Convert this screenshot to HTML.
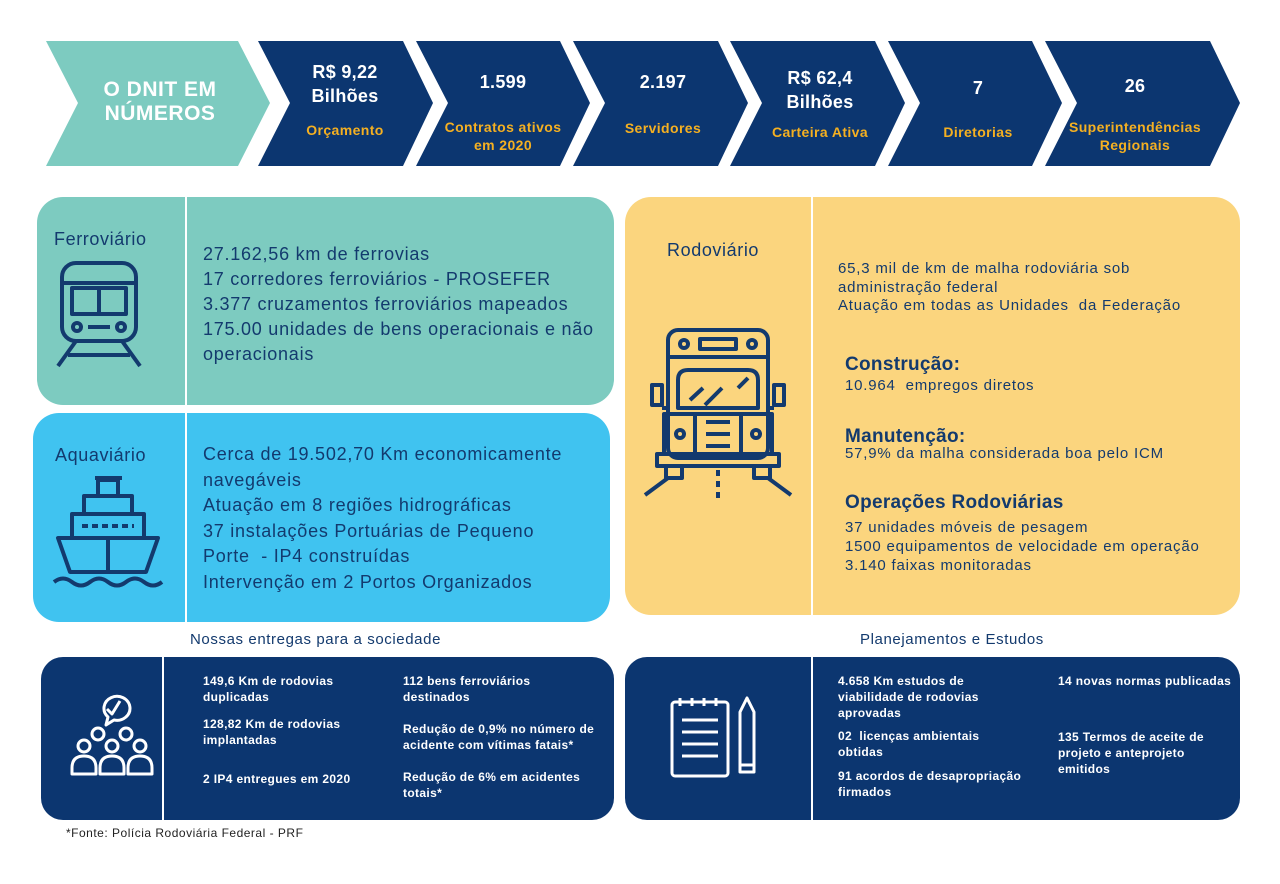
<!DOCTYPE html>
<html><head><meta charset="utf-8"><style>
*{margin:0;padding:0;box-sizing:border-box}
body{width:1280px;height:884px;background:#fff;position:relative;overflow:hidden;font-family:"Liberation Sans",sans-serif;color:#133a6e}
.a{position:absolute;white-space:nowrap}
.hv{color:#fff;font-weight:bold;font-size:18px;text-align:center;width:170px;line-height:24px;letter-spacing:0.3px}
.hl{color:#f5b021;font-size:14px;font-weight:bold;letter-spacing:0.4px;text-align:center;width:170px;line-height:18px}
.box{position:absolute;border-radius:26px}
.t17{font-size:18px;line-height:25px;letter-spacing:0.75px}
.t14{font-size:15px;line-height:18.5px;letter-spacing:0.8px}
.h{font-size:19px;font-weight:bold;letter-spacing:0.3px}
.ti{font-size:18px;letter-spacing:0.6px}
.s{font-size:12px;line-height:16px;color:#fff;font-weight:bold;letter-spacing:0.35px}
</style></head><body>
<svg class="a" style="left:0;top:0" width="1280" height="884">
<polygon points="46,41 238,41 270,103 238,166 46,166 78,103" fill="#7dcbc0"/>
<g fill="#0c3670">
<polygon points="258,41 403,41 433,103 403,166 258,166 290,103"/>
<polygon points="416,41 560,41 590,103 560,166 416,166 448,103"/>
<polygon points="573,41 718,41 748,103 718,166 573,166 605,103"/>
<polygon points="730,41 875,41 905,103 875,166 730,166 762,103"/>
<polygon points="888,41 1032,41 1062,103 1032,166 888,166 920,103"/>
<polygon points="1045,41 1210,41 1240,103 1210,166 1045,166 1077,103"/>
</g>
</svg>
<div class="a" style="left:80px;top:78px;width:160px;text-align:center;color:#fff;font-weight:bold;font-size:21px;letter-spacing:0.5px;line-height:24px">O DNIT EM<br>NÚMEROS</div>
<div class="a hv" style="left:260px;top:60px">R$ 9,22<br>Bilhões</div>
<div class="a hl" style="left:260px;top:121px">Orçamento</div>
<div class="a hv" style="left:418px;top:70px">1.599</div>
<div class="a hl" style="left:418px;top:118px">Contratos ativos<br>em 2020</div>
<div class="a hv" style="left:578px;top:70px">2.197</div>
<div class="a hl" style="left:578px;top:119px">Servidores</div>
<div class="a hv" style="left:735px;top:66px">R$ 62,4<br>Bilhões</div>
<div class="a hl" style="left:735px;top:123px">Carteira Ativa</div>
<div class="a hv" style="left:893px;top:76px">7</div>
<div class="a hl" style="left:893px;top:123px">Diretorias</div>
<div class="a hv" style="left:1050px;top:74px">26</div>
<div class="a hl" style="left:1050px;top:118px">Superintendências<br>Regionais</div>

<div class="box" style="left:37px;top:197px;width:577px;height:208px;background:#7dcbc0"></div>
<div class="box" style="left:33px;top:413px;width:577px;height:209px;background:#40c3f0"></div>
<div class="box" style="left:625px;top:197px;width:615px;height:418px;background:#fbd57e"></div>
<div class="box" style="left:41px;top:657px;width:573px;height:163px;background:#0c3670;border-radius:22px"></div>
<div class="box" style="left:625px;top:657px;width:615px;height:163px;background:#0c3670;border-radius:22px"></div>
<div class="a" style="left:185px;top:197px;width:2px;height:425px;background:#fff"></div>
<div class="a" style="left:811px;top:197px;width:2px;height:418px;background:#fff"></div>
<div class="a" style="left:162px;top:657px;width:2px;height:163px;background:#fff"></div>
<div class="a" style="left:811px;top:657px;width:2px;height:163px;background:#fff"></div>

<div class="a ti" style="left:54px;top:229px">Ferroviário</div>
<div class="a t17" style="left:203px;top:242px">27.162,56 km de ferrovias<br>17 corredores ferroviários - PROSEFER<br>3.377 cruzamentos ferroviários mapeados<br>175.00 unidades de bens operacionais e não<br>operacionais</div>
<div class="a ti" style="left:55px;top:445px">Aquaviário</div>
<div class="a t17" style="left:203px;top:442px;line-height:25.5px">Cerca de 19.502,70 Km economicamente<br>navegáveis<br>Atuação em 8 regiões hidrográficas<br>37 instalações Portuárias de Pequeno<br>Porte &nbsp;- IP4 construídas<br>Intervenção em 2 Portos Organizados</div>
<div class="a ti" style="left:667px;top:240px">Rodoviário</div>
<div class="a t14" style="left:838px;top:260px">65,3 mil de km de malha rodoviária sob<br>administração federal<br>Atuação em todas as Unidades &nbsp;da Federação</div>
<div class="a h" style="left:845px;top:354px">Construção:</div>
<div class="a t14" style="left:845px;top:377px">10.964 &nbsp;empregos diretos</div>
<div class="a h" style="left:845px;top:426px">Manutenção:</div>
<div class="a t14" style="left:845px;top:445px">57,9% da malha considerada boa pelo ICM</div>
<div class="a h" style="left:845px;top:492px">Operações Rodoviárias</div>
<div class="a t14" style="left:845px;top:518px;line-height:19px">37 unidades móveis de pesagem<br>1500 equipamentos de velocidade em operação<br>3.140 faixas monitoradas</div>

<div class="a" style="left:190px;top:631px;font-size:15px;letter-spacing:0.6px">Nossas entregas para a sociedade</div>
<div class="a" style="left:860px;top:631px;font-size:15px;letter-spacing:0.6px">Planejamentos e Estudos</div>
<div class="a s" style="left:203px;top:673px">149,6 Km de rodovias<br>duplicadas</div>
<div class="a s" style="left:203px;top:716px">128,82 Km de rodovias<br>implantadas</div>
<div class="a s" style="left:203px;top:771px">2 IP4 entregues em 2020</div>
<div class="a s" style="left:403px;top:673px">112 bens ferroviários<br>destinados</div>
<div class="a s" style="left:403px;top:721px">Redução de 0,9% no número de<br>acidente com vítimas fatais*</div>
<div class="a s" style="left:403px;top:769px">Redução de 6% em acidentes<br>totais*</div>
<div class="a s" style="left:838px;top:673px">4.658 Km estudos de<br>viabilidade de rodovias<br>aprovadas</div>
<div class="a s" style="left:838px;top:728px">02 &nbsp;licenças ambientais<br>obtidas</div>
<div class="a s" style="left:838px;top:768px">91 acordos de desapropriação<br>firmados</div>
<div class="a s" style="left:1058px;top:673px">14 novas normas publicadas</div>
<div class="a s" style="left:1058px;top:729px">135 Termos de aceite de<br>projeto e anteprojeto<br>emitidos</div>
<div class="a" style="left:66px;top:826px;font-size:12px;letter-spacing:0.5px;color:#222">*Fonte: Polícia Rodoviária Federal - PRF</div>

<svg class="a" style="left:0;top:0" width="1280" height="884" fill="none" stroke="#133a6e" stroke-width="4" stroke-linejoin="round">
<rect x="62" y="263" width="74" height="78" rx="14"/>
<line x1="62" y1="283" x2="136" y2="283"/>
<rect x="72" y="288" width="54" height="26"/><line x1="99" y1="288" x2="99" y2="314"/>
<circle cx="77" cy="327" r="4"/><circle cx="121" cy="327" r="4"/><line x1="88" y1="327" x2="110" y2="327"/>
<line x1="76" y1="341" x2="58" y2="366"/><line x1="122" y1="341" x2="140" y2="366"/><line x1="68" y1="355" x2="130" y2="355"/>
<path d="M58 538 L158 538 L146 572 L70 572 Z"/>
<rect x="72" y="514" width="72" height="24"/>
<rect x="84" y="496" width="48" height="18"/>
<line x1="95" y1="478" x2="122" y2="478"/><rect x="98" y="480" width="20" height="16"/>
<line x1="82" y1="526" x2="134" y2="526" stroke-dasharray="6 4"/>
<line x1="108" y1="538" x2="108" y2="572"/>
<path d="M54 582 q9 -7 18 0 t18 0 t18 0 t18 0 t18 0 t18 0"/>
<rect x="668" y="330" width="100" height="128" rx="10"/>
<line x1="668" y1="357" x2="768" y2="357"/>
<circle cx="684" cy="344" r="4"/><circle cx="752" cy="344" r="4"/><rect x="700" y="339" width="36" height="10"/>
<path d="M678 408 L678 380 q0 -10 10 -10 L748 370 q10 0 10 10 L758 408 Z"/>
<line x1="690" y1="400" x2="703" y2="388"/><line x1="705" y1="405" x2="722" y2="388"/><line x1="738" y1="388" x2="748" y2="378"/>
<rect x="664" y="414" width="108" height="40"/>
<line x1="695" y1="414" x2="695" y2="454"/><line x1="741" y1="414" x2="741" y2="454"/>
<circle cx="680" cy="434" r="4"/><circle cx="756" cy="434" r="4"/>
<line x1="706" y1="422" x2="730" y2="422"/><line x1="706" y1="434" x2="730" y2="434"/><line x1="706" y1="446" x2="730" y2="446"/>
<rect x="657" y="454" width="122" height="12"/>
<rect x="666" y="466" width="16" height="12"/><rect x="754" y="466" width="16" height="12"/>
<rect x="652" y="385" width="10" height="20"/><rect x="774" y="385" width="10" height="20"/>
<line x1="662" y1="408" x2="668" y2="408"/><line x1="768" y1="408" x2="774" y2="408"/>
<line x1="668" y1="478" x2="645" y2="495"/><line x1="768" y1="478" x2="791" y2="495"/>
<line x1="718" y1="470" x2="718" y2="498" stroke-dasharray="6 5"/>
</svg>
<svg class="a" style="left:0;top:0" width="1280" height="884" fill="none" stroke="#fff" stroke-width="3" stroke-linejoin="round">
<path d="M106 725 l2 -8 a13 12 0 1 1 6 3 z"/><polyline points="107,709 112,714 120,701"/>
<circle cx="98" cy="734" r="6"/><circle cx="126" cy="734" r="6"/>
<circle cx="84" cy="746" r="6"/><circle cx="112" cy="746" r="6"/><circle cx="140" cy="746" r="6"/>
<path d="M72 774 v-6 q0-12 12-12 q12 0 12 12 v6 z"/><path d="M100 774 v-6 q0-12 12-12 q12 0 12 12 v6 z"/><path d="M128 774 v-6 q0-12 12-12 q12 0 12 12 v6 z"/>
<rect x="672" y="702" width="56" height="74" rx="3"/>
<line x1="680" y1="698" x2="680" y2="706"/><line x1="692" y1="698" x2="692" y2="706"/><line x1="704" y1="698" x2="704" y2="706"/><line x1="716" y1="698" x2="716" y2="706"/>
<line x1="682" y1="720" x2="718" y2="720"/><line x1="682" y1="732" x2="718" y2="732"/><line x1="682" y1="744" x2="718" y2="744"/><line x1="682" y1="756" x2="718" y2="756"/>
<path d="M740 712 L747 698 L754 712 L754 772 L740 772 Z"/><line x1="740" y1="765" x2="754" y2="765"/>
</svg>
</body></html>
